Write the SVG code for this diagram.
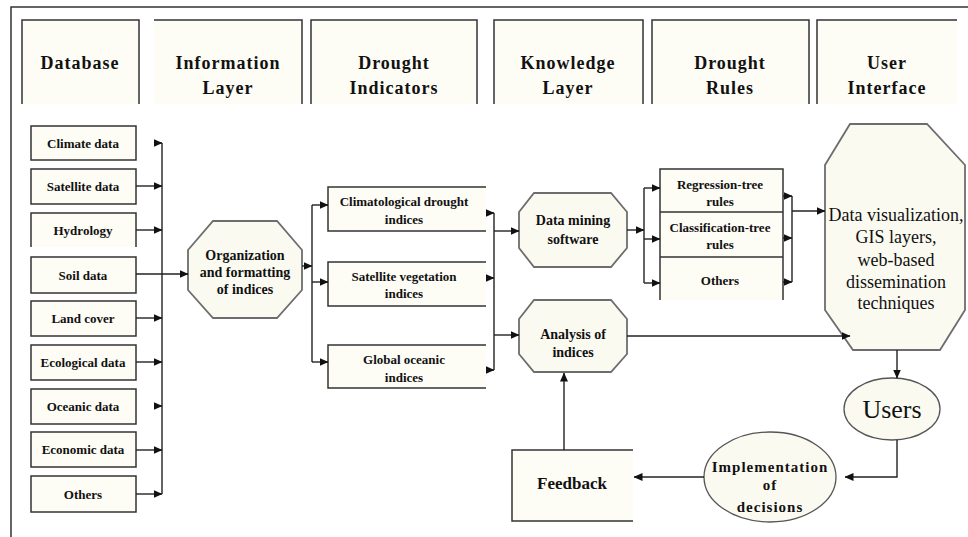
<svg xmlns="http://www.w3.org/2000/svg" width="968" height="537" viewBox="0 0 968 537">
  <defs>
    <marker id="ah" markerWidth="9" markerHeight="8" refX="8.5" refY="4" orient="auto" markerUnits="userSpaceOnUse">
      <path d="M0,0 L9,4 L0,8 Z" fill="#111"/>
    </marker>
    <style>
      .box { fill: #fdfcf5; stroke: #333; stroke-width: 1.5; }
      .fill { fill: #fdfcf5; stroke: none; }
      .edge { fill: none; stroke: #333; stroke-width: 1.5; }
      .oct { fill: #fbfaf1; stroke: #6d6d6d; stroke-width: 1.8; }
      .ell { fill: #fbfaf1; stroke: #555; stroke-width: 1.3; }
      .wire { fill: none; stroke: #222; stroke-width: 1.4; }
      .arr { fill: none; stroke: #222; stroke-width: 1.4; marker-end: url(#ah); }
      .head { font-family: "Liberation Serif", "Times New Roman", serif; font-weight: bold; font-size: 18px; letter-spacing: 1px; fill: #111; text-anchor: middle; }
      .lbl { font-family: "Liberation Serif", "Times New Roman", serif; font-weight: bold; font-size: 13px; fill: #111; text-anchor: middle; }
      .lbl14 { font-family: "Liberation Serif", "Times New Roman", serif; font-weight: bold; font-size: 14px; fill: #111; text-anchor: middle; }
      .big { font-family: "Liberation Serif", "Times New Roman", serif; font-size: 18px; fill: #111; text-anchor: middle; }
    </style>
  </defs>

  <rect width="968" height="537" fill="#ffffff"/>

  <!-- outer frame (top and left rules) -->
  <path class="edge" d="M11,537 V7 H968"/>

  <!-- column headers -->
  <g id="hdr-database">
    <rect class="fill" x="22" y="20" width="117" height="84"/>
    <path class="edge" d="M22,104 V20 H139 V104"/>
    <text class="head" x="80" y="69">Database</text>
  </g>
  <g id="hdr-information">
    <rect class="fill" x="154" y="20" width="148" height="84"/>
    <path class="edge" d="M154,20 H302 V104"/>
    <text class="head" x="228" y="69">Information</text>
    <text class="head" x="228" y="94">Layer</text>
  </g>
  <g id="hdr-indicators">
    <rect class="fill" x="311" y="20" width="166" height="84"/>
    <path class="edge" d="M311,104 V20 H477 V104"/>
    <text class="head" x="394" y="69">Drought</text>
    <text class="head" x="394" y="94">Indicators</text>
  </g>
  <g id="hdr-knowledge">
    <rect class="fill" x="494" y="20" width="149" height="84"/>
    <path class="edge" d="M494,104 V20 H643 V104"/>
    <text class="head" x="568" y="69">Knowledge</text>
    <text class="head" x="568" y="94">Layer</text>
  </g>
  <g id="hdr-rules">
    <rect class="fill" x="652" y="20" width="157" height="84"/>
    <path class="edge" d="M652,104 V20 H809 V104"/>
    <text class="head" x="730" y="69">Drought</text>
    <text class="head" x="730" y="94">Rules</text>
  </g>
  <g id="hdr-interface">
    <rect class="fill" x="817" y="20" width="140" height="84"/>
    <path class="edge" d="M817,104 V20 H957"/>
    <text class="head" x="887" y="69">User</text>
    <text class="head" x="887" y="94">Interface</text>
  </g>

  <!-- database sources -->
  <g id="src-climate"><rect class="box" x="31" y="126" width="105" height="34"/><text class="lbl" x="83" y="148">Climate data</text></g>
  <g id="src-satellite"><rect class="box" x="31" y="169" width="105" height="35"/><text class="lbl" x="83" y="191">Satellite data</text></g>
  <g id="src-hydrology"><rect class="fill" x="31" y="213" width="105" height="34"/><path class="edge" d="M31,247 V213 H136 V247"/><text class="lbl" x="83" y="235">Hydrology</text></g>
  <g id="src-soil"><rect class="box" x="31" y="257" width="105" height="36"/><text class="lbl" x="83" y="280">Soil data</text></g>
  <g id="src-landcover"><rect class="box" x="31" y="301" width="105" height="35"/><text class="lbl" x="83" y="323">Land cover</text></g>
  <g id="src-ecological"><rect class="box" x="31" y="345" width="105" height="35"/><text class="lbl" x="83" y="367">Ecological data</text></g>
  <g id="src-oceanic"><rect class="box" x="31" y="389" width="105" height="35"/><text class="lbl" x="83" y="411">Oceanic data</text></g>
  <g id="src-economic"><rect class="box" x="31" y="432" width="105" height="35"/><text class="lbl" x="83" y="454">Economic data</text></g>
  <g id="src-others"><rect class="box" x="31" y="476" width="105" height="36"/><text class="lbl" x="83" y="499">Others</text></g>

  <!-- information layer -->
  <g id="organization">
    <polygon class="oct" points="213,221 277,221 302,250 302,290 277,318 213,318 188,290 188,250"/>
    <text class="lbl14" x="245" y="260">Organization</text>
    <text class="lbl14" x="245" y="277">and formatting</text>
    <text class="lbl14" x="245" y="294">of indices</text>
  </g>

  <!-- drought indicators -->
  <g id="ind-climatological">
    <rect class="fill" x="328" y="187" width="158" height="44"/>
    <path class="edge" d="M486,187 H328 V231 H486"/>
    <text class="lbl" x="404" y="206">Climatological drought</text>
    <text class="lbl" x="404" y="224">indices</text>
  </g>
  <g id="ind-vegetation">
    <rect class="fill" x="328" y="262" width="158" height="44"/>
    <path class="edge" d="M486,262 H328 V306 H486"/>
    <text class="lbl" x="404" y="281">Satellite vegetation</text>
    <text class="lbl" x="404" y="298">indices</text>
  </g>
  <g id="ind-oceanic">
    <rect class="fill" x="328" y="345" width="158" height="43"/>
    <path class="edge" d="M486,345 H328 V388 H486"/>
    <text class="lbl" x="404" y="364">Global oceanic</text>
    <text class="lbl" x="404" y="382">indices</text>
  </g>

  <!-- knowledge layer -->
  <g id="datamining">
    <polygon class="oct" points="534,193 611,193 627,212 627,248 611,267 534,267 519,248 519,212"/>
    <text class="lbl14" x="573" y="225">Data mining</text>
    <text class="lbl14" x="573" y="244">software</text>
  </g>
  <g id="analysis">
    <polygon class="oct" points="534,300 611,300 627,319 627,354 611,372 534,372 519,354 519,319"/>
    <text class="lbl14" x="573" y="339">Analysis of</text>
    <text class="lbl14" x="573" y="357">indices</text>
  </g>

  <!-- drought rules -->
  <g id="rules">
    <rect class="fill" x="660" y="169" width="123" height="131"/>
    <path class="edge" d="M660,300 V169 H783 V300 M660,212 H783 M660,257 H783"/>
    <text class="lbl" x="720" y="189">Regression-tree</text>
    <text class="lbl" x="720" y="206">rules</text>
    <text class="lbl" x="720" y="232">Classification-tree</text>
    <text class="lbl" x="720" y="249">rules</text>
    <text class="lbl" x="720" y="285">Others</text>
  </g>

  <!-- user interface -->
  <g id="visualization">
    <polygon class="oct" points="850,124 927,124 965,165 965,310 940,350 853,350 825,310 825,165"/>
    <text class="big" x="896" y="221">Data visualization,</text>
    <text class="big" x="896" y="243">GIS layers,</text>
    <text class="big" x="896" y="266">web-based</text>
    <text class="big" x="896" y="288">dissemination</text>
    <text class="big" x="896" y="309">techniques</text>
  </g>
  <g id="users">
    <ellipse class="ell" cx="892" cy="409" rx="48" ry="31"/>
    <text class="big" x="892" y="418" style="font-size:26px">Users</text>
  </g>
  <g id="implementation">
    <ellipse class="ell" cx="770" cy="477" rx="66" ry="45"/>
    <text class="lbl14" x="770" y="472" style="font-size:15px;letter-spacing:1px">Implementation</text>
    <text class="lbl14" x="770" y="490" style="font-size:15px;letter-spacing:1px">of</text>
    <text class="lbl14" x="770" y="512" style="font-size:15px;letter-spacing:1px">decisions</text>
  </g>
  <g id="feedback">
    <rect class="fill" x="512" y="450" width="121" height="71"/>
    <path class="edge" d="M633,450 H512 V521 H633"/>
    <text class="lbl14" x="572" y="489" style="font-size:17px">Feedback</text>
  </g>

  <!-- connectors -->
  <g id="connectors">
    <!-- sources to bus -->
    <path class="wire" d="M162,143 V494"/>
    <path class="arr" d="M154,143 H162"/>
    <path class="arr" d="M136,186 H162"/>
    <path class="arr" d="M136,230 H162"/>
    <path class="arr" d="M136,274 H188"/>
    <path class="arr" d="M136,318 H162"/>
    <path class="arr" d="M136,362 H162"/>
    <path class="arr" d="M154,406 H162"/>
    <path class="arr" d="M136,450 H162"/>
    <path class="arr" d="M136,494 H162"/>

    <!-- organization to indicators -->
    <path class="arr" d="M302,266 H312"/>
    <path class="wire" d="M312,205 V362"/>
    <path class="arr" d="M312,205 H328"/>
    <path class="arr" d="M312,282 H328"/>
    <path class="arr" d="M312,362 H328"/>

    <!-- indicators to knowledge layer -->
    <path class="arr" d="M486,213 H494"/>
    <path class="arr" d="M486,278 H494"/>
    <path class="arr" d="M486,370 H494"/>
    <path class="wire" d="M494,213 V370"/>
    <path class="arr" d="M494,231 H519"/>
    <path class="arr" d="M494,335 H519"/>

    <!-- data mining to rules -->
    <path class="arr" d="M627,230 H644"/>
    <path class="wire" d="M644,188 V283"/>
    <path class="arr" d="M644,188 H660"/>
    <path class="arr" d="M644,239 H660"/>
    <path class="arr" d="M644,283 H660"/>

    <!-- rules to user interface -->
    <path class="arr" d="M783,196 H792"/>
    <path class="arr" d="M783,238 H792"/>
    <path class="arr" d="M783,282 H792"/>
    <path class="wire" d="M792,196 V282"/>
    <path class="arr" d="M792,211 H825"/>

    <!-- analysis to user interface -->
    <path class="arr" d="M627,336 H850"/>

    <!-- feedback loop -->
    <path class="arr" d="M897,350 V378"/>
    <path class="arr" d="M897,440 V477 H845"/>
    <path class="arr" d="M704,477 H634"/>
    <path class="arr" d="M564,450 V373"/>
  </g>
</svg>
